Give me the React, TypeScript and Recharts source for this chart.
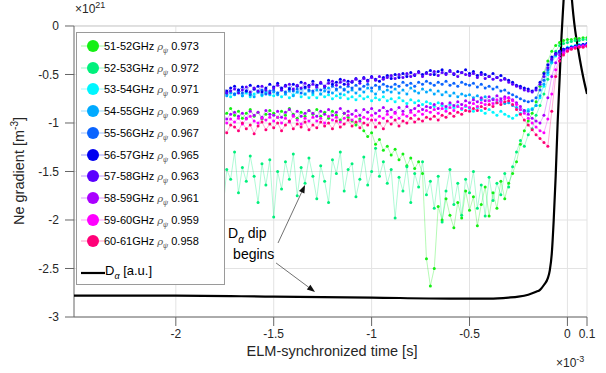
import React from 'react'
import { LineChart, Line, XAxis, YAxis, CartesianGrid, ReferenceLine, ReferenceDot } from 'recharts'

const FONT = '"Liberation Sans", Arial, Helvetica, sans-serif'

// time axis in units of 1e-3 s
const time = [
  -2.5, -2.48, -2.46, -2.44, -2.42, -2.4, -2.38, -2.36, -2.34, -2.32,
  -2.3, -2.28, -2.26, -2.24, -2.22, -2.2, -2.18, -2.16, -2.14, -2.12,
  -2.1, -2.08, -2.06, -2.04, -2.02, -2, -1.98, -1.96, -1.94, -1.92,
  -1.9, -1.88, -1.86, -1.84, -1.82, -1.8, -1.78, -1.76, -1.74, -1.72,
  -1.7, -1.68, -1.66, -1.64, -1.62, -1.6, -1.58, -1.56, -1.54, -1.52,
  -1.5, -1.48, -1.46, -1.44, -1.42, -1.4, -1.38, -1.36, -1.34, -1.32,
  -1.3, -1.28, -1.26, -1.24, -1.22, -1.2, -1.18, -1.16, -1.14, -1.12,
  -1.1, -1.08, -1.06, -1.04, -1.02, -1, -0.98, -0.96, -0.94, -0.92,
  -0.9, -0.88, -0.86, -0.84, -0.82, -0.8, -0.78, -0.76, -0.74, -0.72,
  -0.7, -0.68, -0.66, -0.64, -0.62, -0.6, -0.58, -0.56, -0.54, -0.52,
  -0.5, -0.48, -0.46, -0.44, -0.42, -0.4, -0.38, -0.36, -0.34, -0.32,
  -0.3, -0.28, -0.26, -0.24, -0.22, -0.2, -0.18, -0.16, -0.14, -0.12,
  -0.1, -0.08, -0.06, -0.04, -0.02, 0, 0.02, 0.04, 0.06, 0.08,
  0.1,
]

const bands = ['51-52', '52-53', '53-54', '54-55', '55-56', '56-57', '57-58', '58-59', '59-60', '60-61']
const rhoPsi = ['0.973', '0.972', '0.971', '0.969', '0.967', '0.965', '0.963', '0.961', '0.959', '0.958']
const colors = ['#14f014', '#00f07c', '#00f6ff', '#00aaff', '#0a64ff', '#0000f0', '#5a00ff', '#aa00ff', '#ff00ff', '#ff0078']

// Ne gradient, units of 1e21 m^-3
const g5152 = [
  -0.94, -0.89, -0.97, -0.91, -0.86, -0.95, -0.90, -0.99, -0.88, -0.93,
  -0.90, -0.96, -0.87, -0.92, -0.98, -0.89, -0.94, -0.86, -0.91, -0.97,
  -0.88, -0.93, -0.90, -0.85, -0.95, -0.89, -0.92, -0.87, -0.96, -0.90,
  -0.87, -0.93, -0.89, -0.95, -0.86, -0.91, -0.88, -0.94, -0.90, -0.85,
  -0.92, -0.88, -0.95, -0.90, -0.86, -0.93, -0.89, -0.96, -0.91, -0.87,
  -0.90, -0.94, -0.88, -0.92, -0.85, -0.91, -0.95, -0.89, -0.93, -0.87,
  -0.91, -0.86, -0.93, -0.89, -0.95, -0.88, -0.92, -0.97, -0.90, -0.94,
  -0.98, -1.02, -0.96, -1.08, -1.14, -1.10, -1.22, -1.17, -1.28, -1.24,
  -1.33, -1.27, -1.38, -1.32, -1.44, -1.36, -1.47, -1.40, -1.52, -2.40,
  -2.68, -2.50, -1.86, -2.00, -1.78, -1.95, -2.08, -1.82, -1.98, -1.70,
  -1.90, -1.76, -2.06, -1.84, -1.66, -1.96, -1.72, -1.88, -1.60, -1.78,
  -1.62, -1.52, -1.40, -1.22, -1.08, -0.98, -0.90, -0.78, -0.62, -0.48,
  -0.36, -0.26, -0.20, -0.17, -0.15, -0.14, -0.14, -0.13, -0.13, -0.12,
  -0.12,
]
const g5253 = [
  -1.32, -1.58, -1.45, -1.78, -1.40, -1.52, -1.28, -1.66, -1.48, -1.60,
  -1.36, -1.74, -1.50, -1.42, -1.86, -1.55, -1.33, -1.62, -1.47, -1.70,
  -1.40, -1.55, -1.30, -1.68, -1.45, -1.58, -1.24, -1.50, -1.76, -1.43,
  -1.62, -1.38, -1.80, -1.52, -1.35, -1.66, -1.44, -1.92, -1.48, -1.58,
  -1.30, -1.72, -1.46, -1.60, -1.34, -1.55, -1.82, -1.42, -1.64, -1.38,
  -1.97, -1.50, -1.68, -1.40, -1.58, -1.32, -1.75, -1.46, -1.62, -1.36,
  -1.55, -1.78, -1.44, -1.60, -1.82, -1.38, -1.52, -1.30, -1.70, -1.48,
  -1.42, -1.76, -1.58, -1.35, -1.64, -1.50, -1.26, -1.55, -1.40, -1.62,
  -1.48, -1.98, -1.56, -1.70, -1.45, -1.82, -1.52, -1.66, -1.40, -1.74,
  -1.60, -1.88, -1.55, -2.02, -1.70, -1.48, -1.84, -1.62, -1.95, -1.58,
  -1.72, -1.50, -1.88, -1.64, -1.96, -1.56, -1.80, -1.62, -1.74, -1.52,
  -1.66, -1.45, -1.30, -1.18, -1.24, -1.12, -1.06, -0.92, -0.82, -0.70,
  -0.55, -0.38, -0.26, -0.20, -0.18, -0.17, -0.16, -0.15, -0.15, -0.14,
  -0.14,
]
const g5354 = [
  -0.71, -0.76, -0.70, -0.73, -0.68, -0.74, -0.71, -0.69, -0.75, -0.72,
  -0.70, -0.73, -0.68, -0.72, -0.75, -0.69, -0.71, -0.67, -0.73, -0.70,
  -0.72, -0.69, -0.74, -0.70, -0.67, -0.72, -0.69, -0.73, -0.68, -0.71,
  -0.69, -0.72, -0.68, -0.71, -0.74, -0.69, -0.72, -0.67, -0.70, -0.73,
  -0.70, -0.68, -0.72, -0.69, -0.73, -0.70, -0.67, -0.72, -0.69, -0.71,
  -0.72, -0.69, -0.73, -0.70, -0.74, -0.71, -0.68, -0.73, -0.70, -0.74,
  -0.71, -0.74, -0.70, -0.73, -0.71, -0.75, -0.72, -0.74, -0.71, -0.75,
  -0.73, -0.76, -0.72, -0.75, -0.73, -0.77, -0.74, -0.76, -0.73, -0.77,
  -0.75, -0.78, -0.74, -0.77, -0.80, -0.76, -0.79, -0.77, -0.81, -0.78,
  -0.80, -0.83, -0.79, -0.82, -0.85, -0.81, -0.84, -0.82, -0.86, -0.83,
  -0.85, -0.88, -0.84, -0.87, -0.90, -0.86, -0.89, -0.92, -0.88, -0.91,
  -0.93, -0.95, -0.92, -0.90, -0.88, -0.86, -0.85, -0.82, -0.74, -0.62,
  -0.50, -0.38, -0.31, -0.27, -0.24, -0.22, -0.21, -0.20, -0.19, -0.19,
  -0.18,
]
const g5455 = [
  -0.75, -0.71, -0.77, -0.73, -0.70, -0.76, -0.72, -0.75, -0.69, -0.74,
  -0.72, -0.76, -0.71, -0.74, -0.70, -0.75, -0.72, -0.69, -0.74, -0.71,
  -0.73, -0.70, -0.75, -0.71, -0.68, -0.73, -0.70, -0.74, -0.69, -0.72,
  -0.70, -0.73, -0.68, -0.72, -0.69, -0.74, -0.70, -0.67, -0.72, -0.69,
  -0.71, -0.68, -0.72, -0.67, -0.70, -0.73, -0.68, -0.71, -0.67, -0.70,
  -0.68, -0.71, -0.66, -0.70, -0.67, -0.72, -0.68, -0.65, -0.70, -0.67,
  -0.69, -0.66, -0.70, -0.67, -0.64, -0.69, -0.66, -0.70, -0.65, -0.68,
  -0.66, -0.69, -0.65, -0.68, -0.64, -0.67, -0.70, -0.65, -0.68, -0.66,
  -0.68, -0.65, -0.69, -0.66, -0.70, -0.64, -0.67, -0.69, -0.65, -0.68,
  -0.66, -0.70, -0.67, -0.71, -0.68, -0.72, -0.69, -0.73, -0.70, -0.72,
  -0.71, -0.74, -0.72, -0.76, -0.73, -0.77, -0.75, -0.79, -0.77, -0.80,
  -0.79, -0.82, -0.84, -0.86, -0.87, -0.88, -0.86, -0.82, -0.72, -0.60,
  -0.48, -0.37, -0.30, -0.27, -0.25, -0.23, -0.22, -0.21, -0.20, -0.20,
  -0.19,
]
const g5556 = [
  -0.73, -0.69, -0.75, -0.71, -0.74, -0.70, -0.76, -0.72, -0.68, -0.73,
  -0.71, -0.74, -0.69, -0.72, -0.75, -0.70, -0.73, -0.68, -0.72, -0.70,
  -0.72, -0.68, -0.71, -0.69, -0.73, -0.67, -0.70, -0.72, -0.68, -0.71,
  -0.69, -0.72, -0.67, -0.71, -0.68, -0.70, -0.66, -0.71, -0.69, -0.67,
  -0.70, -0.66, -0.69, -0.67, -0.71, -0.65, -0.68, -0.66, -0.70, -0.67,
  -0.66, -0.69, -0.65, -0.68, -0.64, -0.67, -0.65, -0.69, -0.64, -0.66,
  -0.67, -0.63, -0.66, -0.64, -0.68, -0.62, -0.65, -0.63, -0.66, -0.62,
  -0.64, -0.61, -0.65, -0.62, -0.60, -0.64, -0.61, -0.63, -0.60, -0.62,
  -0.63, -0.60, -0.62, -0.58, -0.61, -0.59, -0.62, -0.58, -0.60, -0.57,
  -0.59, -0.61, -0.58, -0.60, -0.57, -0.61, -0.59, -0.62, -0.58, -0.60,
  -0.61, -0.59, -0.63, -0.60, -0.64, -0.62, -0.65, -0.63, -0.67, -0.66,
  -0.69, -0.71, -0.73, -0.75, -0.77, -0.78, -0.77, -0.74, -0.66, -0.56,
  -0.45, -0.35, -0.29, -0.26, -0.24, -0.23, -0.22, -0.21, -0.20, -0.19,
  -0.19,
]
const g5657 = [
  -0.68, -0.73, -0.70, -0.66, -0.71, -0.74, -0.69, -0.67, -0.72, -0.70,
  -0.66, -0.71, -0.68, -0.64, -0.70, -0.67, -0.72, -0.65, -0.69, -0.66,
  -0.70, -0.64, -0.68, -0.66, -0.71, -0.63, -0.67, -0.69, -0.65, -0.68,
  -0.64, -0.69, -0.66, -0.62, -0.68, -0.65, -0.70, -0.63, -0.67, -0.64,
  -0.62, -0.66, -0.63, -0.67, -0.61, -0.65, -0.62, -0.68, -0.64, -0.60,
  -0.63, -0.59, -0.64, -0.61, -0.65, -0.60, -0.62, -0.58, -0.63, -0.61,
  -0.57, -0.61, -0.59, -0.62, -0.56, -0.60, -0.58, -0.55, -0.60, -0.57,
  -0.58, -0.54, -0.57, -0.53, -0.56, -0.52, -0.55, -0.57, -0.53, -0.51,
  -0.54, -0.50, -0.53, -0.49, -0.52, -0.48, -0.51, -0.47, -0.50, -0.48,
  -0.46, -0.50, -0.47, -0.45, -0.49, -0.46, -0.50, -0.47, -0.48, -0.45,
  -0.49, -0.47, -0.51, -0.48, -0.50, -0.52, -0.49, -0.53, -0.51, -0.54,
  -0.56, -0.58, -0.61, -0.62, -0.64, -0.65, -0.67, -0.64, -0.58, -0.49,
  -0.40, -0.32, -0.28, -0.26, -0.24, -0.23, -0.22, -0.21, -0.20, -0.19,
  -0.18,
]
const g5758 = [
  -0.72, -0.68, -0.75, -0.71, -0.69, -0.76, -0.73, -0.70, -0.74, -0.71,
  -0.69, -0.74, -0.70, -0.73, -0.67, -0.72, -0.68, -0.74, -0.70, -0.67,
  -0.71, -0.68, -0.73, -0.66, -0.70, -0.72, -0.67, -0.71, -0.69, -0.66,
  -0.70, -0.66, -0.69, -0.72, -0.65, -0.68, -0.71, -0.66, -0.69, -0.67,
  -0.65, -0.69, -0.66, -0.63, -0.68, -0.64, -0.67, -0.62, -0.66, -0.69,
  -0.64, -0.61, -0.66, -0.62, -0.60, -0.65, -0.61, -0.64, -0.59, -0.63,
  -0.60, -0.63, -0.58, -0.62, -0.59, -0.57, -0.61, -0.58, -0.56, -0.60,
  -0.57, -0.55, -0.59, -0.54, -0.57, -0.53, -0.56, -0.52, -0.55, -0.53,
  -0.51, -0.54, -0.50, -0.53, -0.49, -0.52, -0.50, -0.48, -0.52, -0.49,
  -0.50, -0.47, -0.51, -0.48, -0.50, -0.47, -0.49, -0.52, -0.48, -0.50,
  -0.51, -0.49, -0.53, -0.50, -0.54, -0.52, -0.55, -0.53, -0.56, -0.55,
  -0.58, -0.60, -0.62, -0.64, -0.66, -0.67, -0.68, -0.66, -0.60, -0.52,
  -0.43, -0.34, -0.29, -0.27, -0.25, -0.24, -0.23, -0.22, -0.21, -0.20,
  -0.19,
]
const g5859 = [
  -0.93, -0.97, -0.91, -0.96, -0.90, -0.94, -0.99, -0.92, -0.95, -0.91,
  -0.96, -0.92, -0.98, -0.93, -0.90, -0.95, -0.91, -0.97, -0.93, -0.89,
  -0.94, -0.90, -0.96, -0.92, -0.88, -0.95, -0.91, -0.94, -0.89, -0.93,
  -0.91, -0.95, -0.89, -0.94, -0.90, -0.87, -0.93, -0.90, -0.96, -0.91,
  -0.89, -0.93, -0.90, -0.95, -0.88, -0.92, -0.89, -0.94, -0.87, -0.91,
  -0.92, -0.88, -0.94, -0.89, -0.86, -0.92, -0.88, -0.93, -0.90, -0.87,
  -0.90, -0.93, -0.88, -0.91, -0.86, -0.92, -0.89, -0.85, -0.90, -0.88,
  -0.91, -0.87, -0.92, -0.86, -0.89, -0.85, -0.90, -0.87, -0.84, -0.88,
  -0.86, -0.89, -0.84, -0.88, -0.83, -0.87, -0.85, -0.82, -0.86, -0.83,
  -0.84, -0.81, -0.85, -0.80, -0.83, -0.79, -0.82, -0.78, -0.81, -0.77,
  -0.79, -0.76, -0.78, -0.74, -0.77, -0.73, -0.76, -0.72, -0.75, -0.73,
  -0.74, -0.76, -0.79, -0.83, -0.87, -0.91, -0.95, -0.98, -1.00, -0.92,
  -0.74, -0.52, -0.38, -0.30, -0.27, -0.25, -0.23, -0.22, -0.21, -0.20,
  -0.20,
]
const g5960 = [
  -1.00, -0.96, -1.03, -0.98, -0.94, -1.01, -0.97, -1.04, -0.95, -0.99,
  -0.96, -1.01, -0.97, -1.03, -0.95, -0.99, -0.94, -1.00, -0.97, -1.02,
  -0.98, -0.94, -1.00, -0.96, -1.02, -0.95, -0.99, -0.93, -0.98, -1.01,
  -0.95, -0.99, -0.93, -0.98, -1.02, -0.96, -0.99, -0.94, -1.00, -0.96,
  -0.99, -0.95, -1.01, -0.96, -0.93, -0.98, -1.00, -0.95, -0.97, -0.94,
  -0.98, -0.94, -1.00, -0.95, -0.99, -0.93, -0.97, -1.01, -0.95, -0.98,
  -0.94, -0.98, -0.95, -1.00, -0.93, -0.97, -0.94, -0.99, -0.95, -0.92,
  -0.97, -0.93, -0.98, -0.94, -0.96, -0.92, -0.97, -0.93, -0.95, -0.91,
  -0.94, -0.90, -0.95, -0.91, -0.93, -0.89, -0.92, -0.88, -0.91, -0.87,
  -0.89, -0.86, -0.90, -0.85, -0.88, -0.84, -0.87, -0.83, -0.85, -0.82,
  -0.84, -0.80, -0.83, -0.79, -0.81, -0.77, -0.80, -0.76, -0.78, -0.75,
  -0.74, -0.77, -0.81, -0.86, -0.90, -0.95, -1.00, -1.04, -1.08, -1.10,
  -0.96, -0.70, -0.45, -0.33, -0.28, -0.25, -0.23, -0.22, -0.21, -0.21,
  -0.20,
]
const g6061 = [
  -1.15, -1.07, -1.11, -1.04, -1.09, -1.18, -1.03, -1.12, -1.06, -1.10,
  -1.02, -1.08, -1.13, -1.05, -1.01, -1.09, -1.04, -1.16, -1.03, -1.07,
  -1.05, -1.00, -1.09, -1.03, -1.12, -1.01, -1.06, -1.22, -1.04, -1.00,
  -1.08, -1.02, -1.06, -1.30, -1.03, -1.09, -1.01, -1.05, -1.10, -1.02,
  -1.04, -1.08, -1.00, -1.06, -1.02, -1.11, -1.03, -0.99, -1.07, -1.01,
  -1.05, -1.00, -1.08, -1.02, -0.98, -1.06, -1.01, -1.04, -0.99, -1.07,
  -1.02, -1.05, -0.99, -1.03, -1.00, -1.06, -0.98, -1.04, -1.01, -0.97,
  -1.03, -0.99, -1.05, -1.00, -1.02, -0.97, -1.04, -1.00, -1.06, -0.98,
  -1.01, -0.97, -1.03, -0.98, -1.00, -0.95, -0.99, -0.96, -0.98, -0.94,
  -0.96, -0.93, -0.97, -0.92, -0.94, -0.90, -0.93, -0.89, -0.91, -0.87,
  -0.88, -0.85, -0.87, -0.83, -0.85, -0.81, -0.83, -0.79, -0.81, -0.78,
  -0.77, -0.81, -0.86, -0.91, -0.97, -1.02, -1.07, -1.12, -1.16, -1.20,
  -1.24, -0.88, -0.52, -0.36, -0.30, -0.26, -0.24, -0.23, -0.22, -0.22,
  -0.21,
]

const seriesValues = [g5152, g5253, g5354, g5455, g5556, g5657, g5758, g5859, g5960, g6061]

// D-alpha signal (a.u.), drawn on the same axis
const daTime = [
  -2.52, -2.0, -1.5, -1.0, -0.6, -0.4, -0.3, -0.25, -0.2, -0.16, -0.14, -0.12, -0.1, -0.09,
  -0.08, -0.07, -0.06, -0.05, -0.04, -0.03, -0.02, -0.01, 0, 0.01, 0.02, 0.03, 0.04, 0.05,
  0.064, 0.08, 0.1,
]
const daValue = [
  -2.78, -2.78, -2.79, -2.80, -2.81, -2.81, -2.80, -2.79, -2.77, -2.74, -2.72, -2.67, -2.6, -2.52,
  -2.35, -2.0, -1.55, -1.0, -0.55, -0.1, 0.25, 0.6, 0.9, 0.7, 0.35, 0.12, -0.05, -0.18,
  -0.35, -0.52, -0.7,
]

const xTicks = [-2, -1.5, -1, -0.5, 0, 0.1]
const yTicks = [-3, -2.5, -2, -1.5, -1, -0.5, 0]

const rows = time.map((t, i) => {
  const row: Record<string, number> = { t }
  seriesValues.forEach((s, k) => { row['s' + k] = s[i] })
  return row
})
const daRows = daTime.map((t, i) => ({ t, da: daValue[i] }))

const AXIS = '#262626'
const GRID = '#e3e3e3'

function Arrow(props: any) {
  const { x1, y1, x2, y2 } = props
  const ang = Math.atan2(y2 - y1, x2 - x1)
  const L = 8
  const W = 3
  const bx = x2 - L * Math.cos(ang)
  const by = y2 - L * Math.sin(ang)
  const px = -Math.sin(ang) * W
  const py = Math.cos(ang) * W
  return (
    <g>
      <line x1={x1} y1={y1} x2={bx} y2={by} stroke="#333" strokeWidth={0.7} />
      <polygon points={`${x2},${y2} ${bx + px},${by + py} ${bx - px},${by - py}`} fill="#111" />
    </g>
  )
}

function DipLabel(props: any) {
  const { cx, cy } = props
  return (
    <text x={cx} y={cy} fontFamily={FONT} fontSize={14} fill="#000">
      <tspan>D</tspan>
      <tspan fontSize={10} dy={5} fontStyle="italic">α</tspan>
      <tspan dy={-5}> dip</tspan>
      <tspan x={cx + 5} dy={21}>begins</tspan>
    </text>
  )
}

function LegendBox() {
  return (
    <div
      style={{
        position: 'absolute', left: 76, top: 32, width: 149, height: 253,
        background: '#fff', border: '1px solid #9a9a9a', boxSizing: 'border-box',
        fontFamily: FONT, fontSize: 11, color: '#000',
      }}
    >
      {bands.map((b, i) => (
        <div key={b} style={{ position: 'absolute', left: 0, top: 13 + i * 21.7 - 8, height: 16, width: 147 }}>
          <svg width={26} height={16} style={{ position: 'absolute', left: 3, top: 0 }}>
            <line x1={1} y1={8} x2={25} y2={8} stroke={colors[i]} strokeOpacity={0.5} strokeWidth={0.8} />
            <circle cx={13} cy={8} r={6} fill={colors[i]} />
          </svg>
          <span style={{ position: 'absolute', left: 27, top: 0, lineHeight: '16px', whiteSpace: 'nowrap' }}>
            {b}GHz{' '}
            <i style={{ fontFamily: '"DejaVu Serif", serif', fontSize: 10, color: '#555' }}>ρ</i>
            <sub style={{ fontSize: 7, fontStyle: 'italic', color: '#555', verticalAlign: '-3px' }}>ψ</sub>
            {' '}{rhoPsi[i]}
          </span>
        </div>
      ))}
      <div style={{ position: 'absolute', left: 0, top: 240 - 8, height: 16, width: 147 }}>
        <svg width={26} height={16} style={{ position: 'absolute', left: 3, top: 0 }}>
          <line x1={1} y1={8} x2={25} y2={8} stroke="#000" strokeWidth={2.2} />
        </svg>
        <span style={{ position: 'absolute', left: 28, top: -2, lineHeight: '16px', whiteSpace: 'nowrap', fontSize: 13 }}>
          D<sub style={{ fontSize: 9, fontStyle: 'italic', verticalAlign: '-4px' }}>α</sub> [a.u.]
        </span>
      </div>
    </div>
  )
}

function Labels() {
  return (
    <svg width={606} height={373} style={{ position: 'absolute', left: 0, top: 0, pointerEvents: 'none' }}>
      <text transform="translate(24,171) rotate(-90)" textAnchor="middle" fontFamily={FONT} fontSize={14.5} fill={AXIS}>
        Ne gradient [m<tspan dy={-6} fontSize={10}>-3</tspan><tspan dy={6}>]</tspan>
      </text>
      <text x={332} y={356} textAnchor="middle" fontFamily={FONT} fontSize={14.5} fill={AXIS}>
        ELM-synchronized time [s]
      </text>
      <text x={75} y={13} fontFamily={FONT} fontSize={12} fill={AXIS}>
        ×10<tspan dy={-5} fontSize={9}>21</tspan>
      </text>
      <text x={556} y={367} fontFamily={FONT} fontSize={12} fill={AXIS}>
        ×10<tspan dy={-5} fontSize={9}>-3</tspan>
      </text>
    </svg>
  )
}

export default function App() {
  return (
    <div style={{ position: 'absolute', left: 0, top: 0, width: 606, height: 373, background: '#fff' }}>
      <LineChart width={606} height={373} data={rows} margin={{ top: 0, right: 19, bottom: 0, left: 0 }}>
        <CartesianGrid vertical={false} stroke={GRID} horizontalValues={yTicks} />
        {xTicks.map((x) => (
          <ReferenceLine key={'vg' + x} segment={[{ x, y: -3 }, { x, y: 0 }]} stroke={GRID} ifOverflow="visible" />
        ))}
        <ReferenceLine segment={[{ x: -2.52, y: 0 }, { x: 0.1, y: 0 }]} stroke="#cfcfcf" ifOverflow="visible" />
        <ReferenceLine segment={[{ x: -2.52, y: -3 }, { x: -2.52, y: 0 }]} stroke="#666" ifOverflow="visible" />
        <XAxis
          dataKey="t" type="number" domain={[-2.52, 0.1]} ticks={xTicks} allowDataOverflow
          height={56} tickSize={9} tickMargin={3} stroke="#666"
          tick={{ fill: AXIS, fontSize: 12, fontFamily: FONT }}
          tickFormatter={(v: number) => String(v)}
        />
        <YAxis
          type="number" domain={[-3, 0.268]} ticks={yTicks} allowDataOverflow
          width={74} tickSize={9} tickMargin={6} axisLine={false} stroke="#666"
          tick={{ fill: AXIS, fontSize: 12, fontFamily: FONT }}
          tickFormatter={(v: number) => String(v)}
        />
        {bands.map((b, k) => (
          <Line
            key={b} dataKey={'s' + k} type="linear" isAnimationActive={false}
            stroke={colors[k]} strokeOpacity={0.45} strokeWidth={0.7}
            dot={{ r: 1.5, fill: colors[k], stroke: 'none' }}
          />
        ))}
        <Line
          data={daRows} dataKey="da" type="monotone" isAnimationActive={false}
          stroke="#000" strokeWidth={2.2} dot={false}
        />
        <ReferenceLine segment={[{ x: -1.478, y: -2.237 }, { x: -1.34, y: -1.639 }]} shape={Arrow} ifOverflow="visible" />
        <ReferenceLine segment={[{ x: -1.488, y: -2.443 }, { x: -1.289, y: -2.742 }]} shape={Arrow} ifOverflow="visible" />
        <ReferenceDot x={-1.733} y={-2.186} r={1} shape={DipLabel} ifOverflow="visible" />
      </LineChart>
      <LegendBox />
      <Labels />
    </div>
  )
}
